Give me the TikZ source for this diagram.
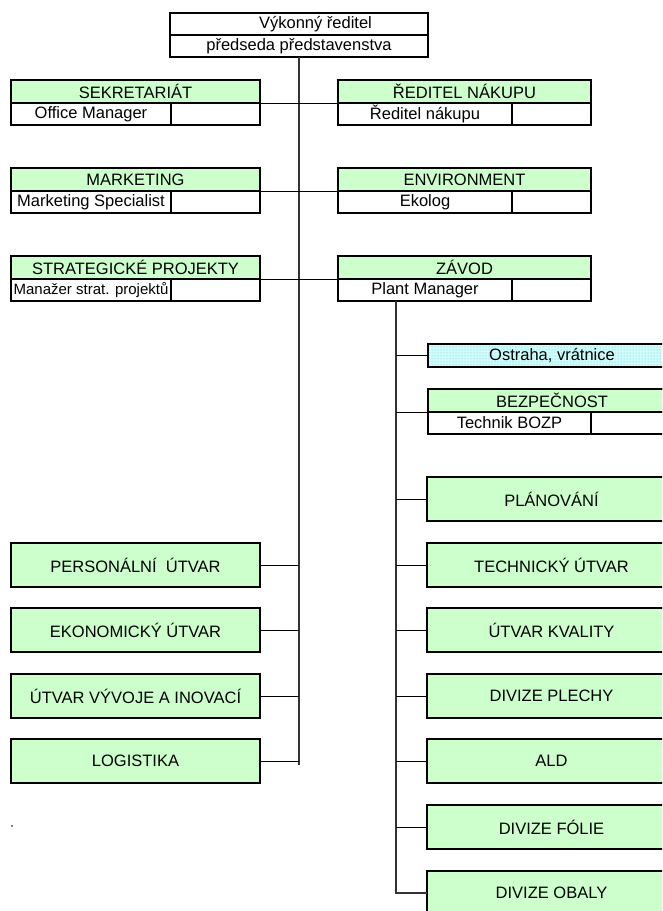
\documentclass[tikz,border=0pt]{standalone}
\usepackage{fontspec}
\setmainfont{Liberation Sans}
\usetikzlibrary{patterns}
\definecolor{boxgreen}{HTML}{CCFFCC}
\definecolor{boxcyan}{HTML}{CCFFFF}
\newcommand{\orgtwobox}[7]{%
 \node[cell, fill=boxgreen, anchor=north west, minimum width={(#4+#5)*1pt}, minimum height=23pt] (#1T) at (#2,#3) {#6};
 \node[cell, fill=white, anchor=north west, minimum width={#4*1pt}, minimum height=22pt] (#1L) at (#1T.south west) {#7};
 \node[cell, fill=white, anchor=north east, minimum width={#5*1pt}, minimum height=22pt] (#1R) at (#1T.south east) {};
 \draw[frame] (#1T.north west) rectangle (#1R.south east);
}
\begin{document}
\begin{tikzpicture}[x=1pt,y=-1pt,
 every node/.style={inner sep=0pt, outer sep=0pt, font=\fontsize{16.5}{18}\selectfont},
 cell/.style={draw, line width=1.2pt},
 frame/.style={line width=2pt},
 bigbox/.style={draw, line width=2pt, fill=boxgreen, anchor=north west, minimum width=249pt, minimum height=44pt},
 conn/.style={line width=0.9pt},
 vline/.style={line width=1.1pt, black!80}]
\useasboundingbox (0,0) rectangle (662,911);
\clip (0,0) rectangle (662,911);

% top box
\node[cell, fill=white, anchor=north west, minimum width=258pt, minimum height=22pt] (ceoT) at (170,13) {\hspace*{33pt}Výkonný ředitel};
\node[cell, fill=white, anchor=north west, minimum width=258pt, minimum height=22pt] (ceoB) at (ceoT.south west) {předseda představenstva};
\draw[frame] (ceoT.north west) rectangle (ceoB.south east);

\coordinate (mainEnd) at (299,765);

% two-row boxes
\orgtwobox{sek}{11}{80}{160}{89}{SEKRETARIÁT}{Office Manager}
\orgtwobox{mkt}{11}{168}{160}{89}{MARKETING}{Marketing Specialist}
\orgtwobox{str}{11}{256}{160}{89}{STRATEGICKÉ PROJEKTY}{\fontsize{15}{17}\selectfont Manažer strat. projektů}
\orgtwobox{nak}{338}{80}{174}{79}{ŘEDITEL NÁKUPU}{Ředitel nákupu}
\orgtwobox{env}{338}{168}{174}{79}{ENVIRONMENT}{Ekolog}
\orgtwobox{zav}{338}{256}{174}{79}{ZÁVOD}{Plant Manager}
\orgtwobox{bez}{428}{389}{163}{85}{BEZPEČNOST}{Technik BOZP}

% Ostraha
\node[draw, line width=2pt, preaction={fill=boxcyan}, preaction={pattern=dots, pattern color=black!35}, anchor=north west, minimum width=248pt, minimum height=23pt] (ost) at (428,344) {Ostraha, vrátnice};

% big left boxes
\node[bigbox] (per) at (11,543) {PERSONÁLNÍ\ \ ÚTVAR};
\node[bigbox] (eko) at (11,608) {EKONOMICKÝ ÚTVAR};
\node[bigbox] (vyv) at (11,674) {ÚTVAR VÝVOJE A INOVACÍ};
\node[bigbox] (log) at (11,739) {LOGISTIKA};

% big right boxes
\node[bigbox] (pla) at (427,477) {PLÁNOVÁNÍ};
\node[bigbox] (tec) at (427,543) {TECHNICKÝ ÚTVAR};
\node[bigbox] (kva) at (427,608) {ÚTVAR KVALITY};
\node[bigbox] (ple) at (427,674) {DIVIZE PLECHY};
\node[bigbox] (ald) at (427,739) {ALD};
\node[bigbox] (fol) at (427,805) {DIVIZE FÓLIE};
\node[bigbox] (obl) at (427,871) {DIVIZE OBALY};

% connectors
\draw[vline] (ceoB.south) -- (ceoB.south |- mainEnd);
\draw[conn] (sekT.south east) -- (nakT.south west);
\draw[conn] (mktT.south east) -- (envT.south west);
\draw[conn] (strT.south east) -- (zavT.south west);
\foreach \n in {per,eko,vyv,log}{\draw[conn] (\n.east) -- (\n.east -| ceoB.south);}

\coordinate (plTop) at ([xshift=-29pt]zavL.south);
\draw[vline] (plTop) -- (plTop |- obl.west) -- (obl.west);
\draw[conn] (plTop |- ost.west) -- (ost.west);
\draw[conn] (plTop |- bezT.south west) -- (bezT.south west);
\foreach \n in {pla,tec,kva,ple,ald,fol}{\draw[conn] (plTop |- \n.west) -- (\n.west);}

% stray dot
\fill (12,826) circle (0.8);
\end{tikzpicture}
\end{document}
